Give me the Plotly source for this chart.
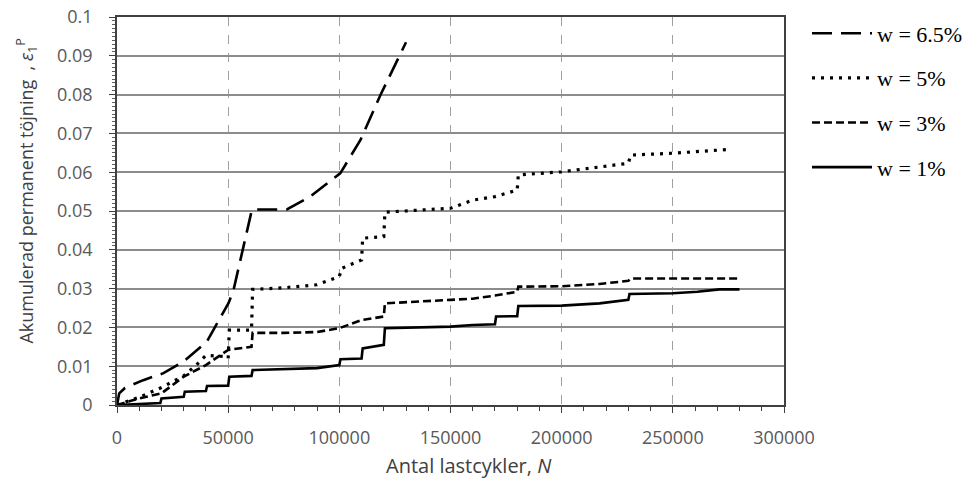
import plotly.graph_objects as go

# ---- data ----
w65_x = [0, 1000, 3600, 11800, 20900, 29900, 40400, 50200, 52400, 60700, 76400, 86900, 100400, 109500, 118500, 130000]
w65_y = [0, 0.003, 0.0044, 0.0064, 0.0082, 0.0112, 0.0163, 0.0263, 0.0296, 0.0504, 0.0504, 0.0537, 0.0597, 0.0683, 0.0799, 0.0935]

w5_x = [0, 10000, 20000, 30000, 36000, 40000, 48000, 50000, 50500, 60500, 61000, 75000, 90000, 100000, 101000, 110000,
        110500, 120000, 120500, 150000, 160000, 170000, 180000, 180500, 200000, 217000, 230000, 231000, 250000, 276000]
w5_y = [0, 0.002, 0.0045, 0.0075, 0.0105, 0.0128, 0.0125, 0.012, 0.0193, 0.0193, 0.0298, 0.0302, 0.031, 0.0331, 0.0352, 0.0374,
        0.043, 0.0434, 0.0497, 0.0507, 0.0528, 0.0537, 0.0554, 0.0593, 0.0601, 0.0614, 0.0623, 0.0644, 0.0649, 0.0659]

w3_x = [0, 10000, 20000, 30000, 40000, 50000, 60500, 61000, 75000, 90000, 100000, 110000, 120000, 120500, 150000, 160000,
        170000, 180000, 180500, 200000, 217000, 230000, 231000, 280000]
w3_y = [0, 0.0017, 0.003, 0.0073, 0.0103, 0.0142, 0.015, 0.0186, 0.0186, 0.0188, 0.0198, 0.0219, 0.0228, 0.0262, 0.0271, 0.0274,
        0.0282, 0.0292, 0.0305, 0.0306, 0.0312, 0.032, 0.0326, 0.0326]

w1_x = [0, 19500, 20000, 30000, 30500, 40000, 40500, 50000, 50500, 60500, 61000, 90000, 100000, 100500, 110000, 110500,
        120000, 120500, 150000, 160000, 170000, 170500, 180000, 180500, 200000, 217000, 230000, 230500, 250000, 261000, 271000, 280000]
w1_y = [0, 0.0005, 0.0017, 0.0021, 0.0034, 0.0036, 0.0049, 0.005, 0.0073, 0.0075, 0.009, 0.0095, 0.0103, 0.0118, 0.012, 0.0146,
        0.0155, 0.0198, 0.0202, 0.0206, 0.0208, 0.0228, 0.0229, 0.0255, 0.0256, 0.0262, 0.0271, 0.0286, 0.0288, 0.0292, 0.0298, 0.0298]

series_names = ["w = 6.5%", "w = 5%", "w = 3%", "w = 1%"]
x_ticks = [0, 50000, 100000, 150000, 200000, 250000, 300000]
x_tick_text = ["0", "50000", "100000", "150000", "200000", "250000", "300000"]
y_ticks = [0, 0.01, 0.02, 0.03, 0.04, 0.05, 0.06, 0.07, 0.08, 0.09, 0.1]
y_tick_text = ["0", "0.01", "0.02", "0.03", "0.04", "0.05", "0.06", "0.07", "0.08", "0.09", "0.1"]
x_title = "Antal lastcykler, <i>N</i>"
y_title = "Akumulerad permanent töjning  , <i>ε</i><sub>1</sub><sup>P</sup>"

fig = go.Figure()
styles = [
    dict(dash="20px,9px", width=2.6),
    dict(dash="3px,6px", width=3.2),
    dict(dash="8px,4px", width=2.6),
    dict(dash="solid", width=2.6),
]
for name, xs, ys, st in zip(series_names, [w65_x, w5_x, w3_x, w1_x], [w65_y, w5_y, w3_y, w1_y], styles):
    fig.add_trace(go.Scatter(x=xs, y=ys, mode="lines", name=name, legendgroup=name,
                             line=dict(color="black", **st)))

tick_font = dict(family="Open Sans", size=18, color="#595959")
fig.update_layout(
    width=970, height=479,
    margin=dict(l=117, r=186, t=17, b=74, autoexpand=False),
    paper_bgcolor="white", plot_bgcolor="white",
    showlegend=True,
    legend=dict(x=1.0345, y=1.0116, xanchor="left", yanchor="top", xref="paper", yref="paper",
                itemwidth=60, tracegroupgap=13,
                font=dict(family="Liberation Serif", size=22, color="black"),
                bgcolor="rgba(0,0,0,0)"),
    xaxis=dict(range=[0, 300000], tickvals=x_ticks, ticktext=x_tick_text, tickfont=tick_font,
               automargin=False, ticklabeloverflow="allow",
               showline=True, linecolor="#404040", linewidth=1.5, mirror=True,
               ticks="outside", ticklen=6, tickcolor="#404040", ticklabelstandoff=10,
               showgrid=True, gridcolor="#a0a0a0", griddash="dash", gridwidth=1,
               minor=dict(dtick=10000, ticks="outside", ticklen=4, tickcolor="#404040", showgrid=False),
               zeroline=False),
    yaxis=dict(range=[0, 0.1], tickvals=y_ticks, ticktext=y_tick_text, tickfont=tick_font,
               automargin=False, ticklabeloverflow="allow",
               showline=True, linecolor="#404040", linewidth=1.5, mirror=True,
               ticks="outside", ticklen=6, tickcolor="#404040", ticklabelstandoff=13,
               showgrid=True, gridcolor="#8c8c8c", gridwidth=1.5,
               minor=dict(dtick=0.001, ticks="outside", ticklen=3, tickcolor="#606060", showgrid=False),
               zeroline=False),
    annotations=[
        dict(text=x_title, xref="paper", yref="paper", x=0.528, y=-0.157, xanchor="center", yanchor="middle",
             showarrow=False, font=dict(family="Open Sans", size=20, color="#404040")),
        dict(text=y_title, xref="paper", yref="paper", x=-0.1364, y=0.55, xanchor="center", yanchor="middle",
             textangle=-90, showarrow=False, font=dict(family="Open Sans", size=18, color="#404040")),
    ],
)

fig.write_html("out.html", config={"displayModeBar": False},
               post_script="document.body.style.margin='0';")
